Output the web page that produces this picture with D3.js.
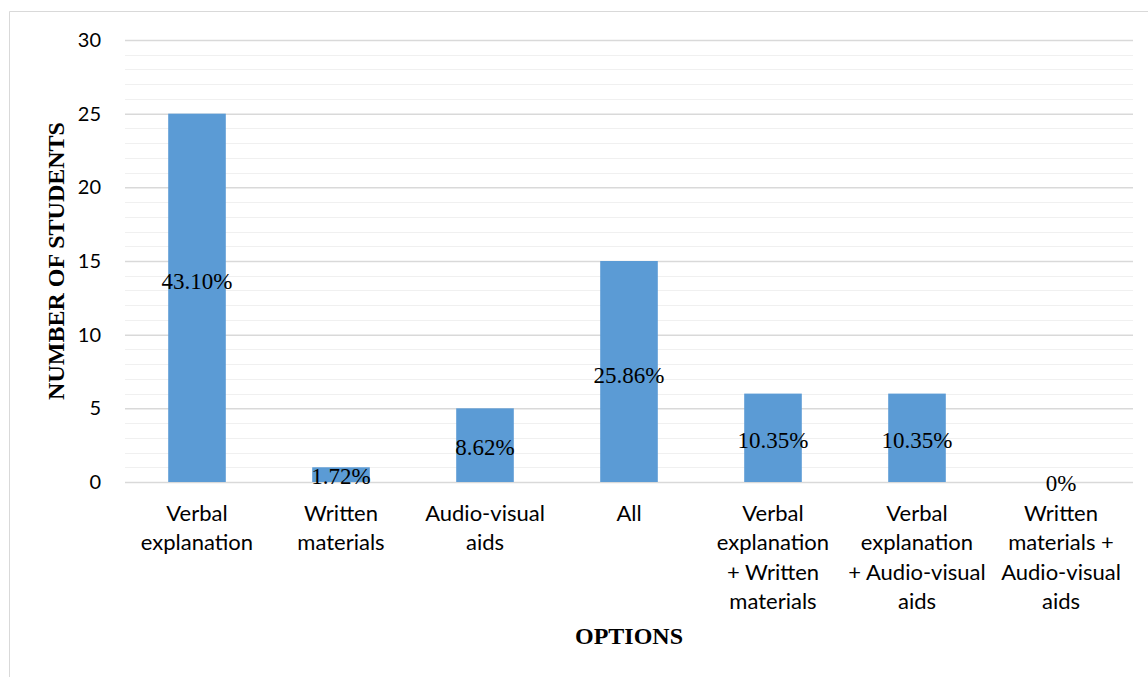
<!DOCTYPE html>
<html>
<head>
<meta charset="utf-8">
<script src="https://cdn.jsdelivr.net/npm/d3@7"></script>
<style>
  html, body { margin: 0; padding: 0; background: #fff; }
  svg { display: block; }
</style>
</head>
<body>
<svg id="chart"></svg>
<script>
// chart data
const categories = [
    "Verbal\nexplanation",
    "Written\nmaterials",
    "Audio-visual\naids",
    "All",
    "Verbal\nexplanation\n+ Written\nmaterials",
    "Verbal\nexplanation\n+ Audio-visual\naids",
    "Written\nmaterials +\nAudio-visual\naids"
];
const students = [25, 1, 5, 15, 6, 6, 0];
const percentLabels = ["43.10%", "1.72%", "8.62%", "25.86%", "10.35%", "10.35%", "0%"];
// where each data label sits, in axis units
const labelAt = [13.65, 0.4, 2.4, 7.25, 2.85, 2.85, -0.1];
const yTicks = [0, 5, 10, 15, 20, 25, 30];

const width = 1148, height = 677;
const margin = { top: 40, right: 15, bottom: 195, left: 125 };
const sansFont = "Lato, 'Open Sans', sans-serif";
const serifFont = "'Liberation Serif', 'Times New Roman', serif";

const svg = d3.select("#chart")
    .attr("width", width)
    .attr("height", height);

// outer frame (only left and top edges show in the picture)
svg.append("path")
    .attr("d", `M9.5,${height} V11.5 H${width}`)
    .attr("fill", "none")
    .attr("stroke", "#d9d9d9")
    .attr("stroke-width", 1);

const x = d3.scaleBand()
    .domain(categories)
    .range([margin.left, width - margin.right])
    .paddingInner(0.6)
    .paddingOuter(0.3);

const y = d3.scaleLinear()
    .domain([0, 30])
    .range([height - margin.bottom, margin.top]);

// minor gridlines
svg.append("g")
    .attr("stroke", "#f0f0f0")
    .attr("stroke-width", 1)
    .selectAll("line")
    .data(d3.range(0, 31).filter(v => v % 5 != 0))
    .join("line")
    .attr("x1", margin.left)
    .attr("x2", width - margin.right)
    .attr("y1", d => Math.round(y(d)) + 0.5)
    .attr("y2", d => Math.round(y(d)) + 0.5);

// major gridlines + tick labels
svg.append("g")
    .attr("transform", `translate(${margin.left},0)`)
    .call(d3.axisLeft(y)
        .tickValues(yTicks)
        .tickSize(-(width - margin.left - margin.right))
        .tickPadding(24)
        .tickFormat(d3.format("d")))
    .call(g => g.select(".domain").remove())
    .call(g => g.selectAll(".tick line")
        .attr("stroke", "#d9d9d9")
        .attr("stroke-width", 1.5))
    .call(g => g.selectAll(".tick text")
        .attr("fill", "#000")
        .attr("font-family", sansFont)
        .attr("font-size", 20));

// bars
svg.append("g")
    .attr("fill", "#5b9bd5")
    .selectAll("rect")
    .data(students)
    .join("rect")
    .attr("x", (d, i) => x(categories[i]))
    .attr("width", x.bandwidth())
    .attr("y", d => y(d))
    .attr("height", d => y(0) - y(d));

// data labels
svg.append("g")
    .attr("font-family", serifFont)
    .attr("font-size", 23)
    .attr("text-anchor", "middle")
    .attr("fill", "#000")
    .selectAll("text")
    .data(percentLabels)
    .join("text")
    .attr("x", (d, i) => x(categories[i]) + x.bandwidth() / 2)
    .attr("y", (d, i) => y(labelAt[i]) + 8)
    .text(d => d);

// category labels (multi line)
const xAxis = svg.append("g")
    .attr("font-family", sansFont)
    .attr("font-size", 22)
    .attr("text-anchor", "middle")
    .attr("fill", "#000");

categories.forEach(c => {
    const t = xAxis.append("text")
        .attr("x", x(c) + x.bandwidth() / 2)
        .attr("y", 521);
    c.split("\n").forEach((line, k) => {
        t.append("tspan")
            .attr("x", x(c) + x.bandwidth() / 2)
            .attr("dy", k == 0 ? 0 : 29.4)
            .text(line);
    });
});

// axis titles
svg.append("text")
    .attr("font-family", serifFont)
    .attr("font-weight", "bold")
    .attr("font-size", 24)
    .attr("text-anchor", "middle")
    .attr("x", (margin.left + width - margin.right) / 2)
    .attr("y", 644)
    .text("OPTIONS");

svg.append("text")
    .attr("font-family", serifFont)
    .attr("font-weight", "bold")
    .attr("font-size", 24)
    .attr("text-anchor", "middle")
    .attr("transform", `translate(64,${(margin.top + height - margin.bottom) / 2}) rotate(-90)`)
    .text("NUMBER OF STUDENTS");
</script>
</body>
</html>
